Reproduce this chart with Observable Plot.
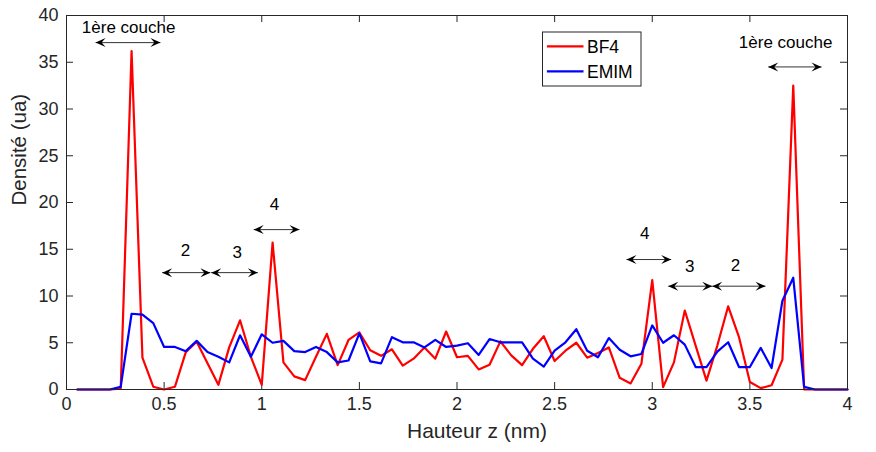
<!DOCTYPE html>
<html><head><meta charset="utf-8">
<script src="https://cdn.jsdelivr.net/npm/d3@7"></script>
<script src="https://cdn.jsdelivr.net/npm/@observablehq/plot@0.6"></script>
<style>
body{margin:0;background:#fff;}
#chart{position:relative;width:876px;height:452px;}
svg{font-family:"Liberation Sans",Arial,Helvetica,sans-serif;}
</style>
</head><body><div id="chart"></div>
<script>
// Hauteur z (nm)
const z = [0.0556,0.1111,0.1667,0.2222,0.2778,0.3333,0.3889,0.4444,0.5,0.5556,0.6111,0.6667,0.7222,0.7778,0.8333,0.8889,0.9444,1.0,
  1.0556,1.1111,1.1667,1.2222,1.2778,1.3333,1.3889,1.4444,1.5,1.5556,1.6111,1.6667,1.7222,1.7778,1.8333,1.8889,1.9444,2.0,
  2.0556,2.1111,2.1667,2.2222,2.2778,2.3333,2.3889,2.4444,2.5,2.5556,2.6111,2.6667,2.7222,2.7778,2.8333,2.8889,2.9444,3.0,
  3.0556,3.1111,3.1667,3.2222,3.2778,3.3333,3.3889,3.4444,3.5,3.5556,3.6111,3.6667,3.7222,3.7778,3.8333,3.8889,3.9444,4.0];
// BF4 density
const bf4 = [0,0,0,0,0.1,36.2,3.4,0.3,0,0.3,4.0,5.1,2.8,0.5,4.5,7.4,3.5,0.5,
  15.7,2.9,1.4,1.0,3.5,5.95,2.6,5.3,6.1,4.2,3.6,4.3,2.55,3.3,4.5,3.3,6.2,3.45,
  3.6,2.15,2.65,5.15,3.65,2.6,4.35,5.7,3.05,4.15,5.0,3.4,3.9,4.5,1.25,0.65,2.75,11.7,
  0.25,2.9,8.45,4.7,0.95,4.7,8.9,5.6,0.8,0.15,0.45,3.2,32.5,0,0,0,0,0];
// EMIM density
const emim = [0,0,0,0,0.3,8.1,8.0,7.1,4.55,4.55,4.1,5.2,4.0,3.5,2.9,5.8,3.5,5.9,
  5.0,5.2,4.1,4.0,4.55,4.0,2.9,3.1,6.0,3.0,2.8,5.6,5.05,5.05,4.5,5.3,4.55,4.7,
  4.95,3.7,5.4,5.05,5.05,5.05,3.3,2.45,4.15,5.05,6.45,4.15,3.45,5.5,4.25,3.55,3.8,6.85,
  5.0,5.8,4.8,2.4,2.4,4.05,5.05,2.4,2.4,4.45,2.3,9.5,11.95,0.3,0,0,0,0];

const seriesNames = ["BF4", "EMIM"];
const seriesColors = ["#ff0000", "#0000ff"];
const xTicks = [0,0.5,1,1.5,2,2.5,3,3.5,4];
const yTicks = [0,5,10,15,20,25,30,35,40];
const xLabel = "Hauteur z (nm)";
const yLabel = "Densité (ua)";

// annotations (data coordinates)
const arrowSpans = [
  {x1:0.149, x2:0.481, y:37.1},
  {x1:0.490, x2:0.737, y:12.5},
  {x1:0.741, x2:0.980, y:12.5},
  {x1:0.959, x2:1.193, y:17.1},
  {x1:2.868, x2:3.097, y:13.9},
  {x1:3.082, x2:3.307, y:11.05},
  {x1:3.307, x2:3.580, y:11.05},
  {x1:3.594, x2:3.867, y:34.5}
];
const arrowLabels = [
  {x:0.318, y:38.75, text:"1ère couche"},
  {x:0.609, y:14.87, text:"2"},
  {x:0.874, y:14.68, text:"3"},
  {x:1.065, y:19.8, text:"4"},
  {x:2.962, y:16.65, text:"4"},
  {x:3.192, y:13.1, text:"3"},
  {x:3.426, y:13.25, text:"2"},
  {x:3.683, y:37.1, text:"1ère couche"}
];

const W = 876, H = 452, mL = 66, mR = 29, mT = 15, mB = 63;
const innerW = W - mL - mR, innerH = H - mT - mB;
const tickLen = 7;
const axisColor = "#262626";

const rowsBF4 = z.map((v, i) => ({z: v, d: bf4[i]}));
const rowsEMIM = z.map((v, i) => ({z: v, d: emim[i]}));

const arrowHead = {
  draw(ctx) {
    ctx.moveTo(0, 0);
    ctx.lineTo(-10, -4.5);
    ctx.lineTo(-6, 0);
    ctx.lineTo(-10, 4.5);
    ctx.closePath();
  }
};
const heads = arrowSpans.flatMap(a => [{x: a.x1, y: a.y, rot: 180}, {x: a.x2, y: a.y, rot: 0}]);

const plot = Plot.plot({
  width: W, height: H,
  marginLeft: mL, marginRight: mR, marginTop: mT, marginBottom: mB,
  style: {fontFamily: '"Liberation Sans", Arial, sans-serif', fontSize: "18px", color: axisColor, background: "white", overflow: "visible"},
  x: {domain: [0, 4]},
  y: {domain: [0, 40]},
  marks: [
    Plot.axisX(xTicks, {tickSize: 0, tickPadding: 8, tickFormat: d => String(d), fontSize: 18, label: null, fill: axisColor}),
    Plot.axisY(yTicks, {tickSize: 0, tickPadding: 8, tickFormat: d => String(d), fontSize: 18, label: null, fill: axisColor}),
    Plot.tickX(xTicks, {x: d => d, insetTop: innerH - tickLen, stroke: axisColor, strokeWidth: 1}),
    Plot.tickX(xTicks, {x: d => d, insetBottom: innerH - tickLen, stroke: axisColor, strokeWidth: 1}),
    Plot.tickY(yTicks, {y: d => d, insetRight: innerW - tickLen, stroke: axisColor, strokeWidth: 1}),
    Plot.tickY(yTicks, {y: d => d, insetLeft: innerW - tickLen, stroke: axisColor, strokeWidth: 1}),
    Plot.line(rowsBF4, {x: "z", y: "d", stroke: seriesColors[0], strokeWidth: 2.2}),
    Plot.line(rowsEMIM, {x: "z", y: "d", stroke: seriesColors[1], strokeWidth: 2.2}),
    Plot.link(arrowSpans, {x1: "x1", x2: "x2", y1: "y", y2: "y", stroke: "#333", strokeWidth: 1}),
    Plot.dot(heads, {x: "x", y: "y", rotate: "rot", symbol: arrowHead, fill: "#000", stroke: "none", r: 5}),
    Plot.text(arrowLabels, {x: "x", y: "y", text: "text", fontSize: 17, fill: "#000"}),
    Plot.text([xLabel], {frameAnchor: "bottom", dx: 20, dy: 48, text: d => d, fontSize: 21, fill: axisColor}),
    Plot.text([yLabel], {frameAnchor: "left", dx: -47, dy: 3, rotate: -90, text: d => d, fontSize: 20.5, fill: axisColor}),
    Plot.frame({stroke: axisColor, strokeWidth: 1})
  ]
});

document.getElementById("chart").appendChild(plot);

// legend
const svg = d3.select(plot);
const lg = svg.append("g").attr("transform", "translate(542.5,32)");
lg.append("rect").attr("width", 98.5).attr("height", 54).attr("fill", "white").attr("stroke", axisColor).attr("stroke-width", 1);
seriesNames.forEach((n, i) => {
  const yy = 14.3 + i * 25;
  lg.append("line").attr("x1", 4.4).attr("x2", 41).attr("y1", yy).attr("y2", yy)
    .attr("stroke", seriesColors[i]).attr("stroke-width", 2.2);
  lg.append("text").attr("x", 44.5).attr("y", yy).attr("dy", "0.36em")
    .attr("text-anchor", "start").attr("font-size", 17.5).attr("fill", "#000").text(n);
});
</script>
</body></html>
